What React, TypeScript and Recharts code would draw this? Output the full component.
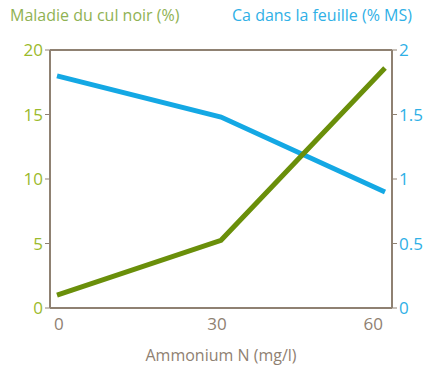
import { Line, LineChart, XAxis, YAxis, CartesianGrid, ReferenceLine } from 'recharts';

const ammonium = [0, 30, 60];
const culNoir = [1.0, 5.25, 18.6];
const calcium = [1.8, 1.48, 0.9];
const leftTicks = [0, 5, 10, 15, 20];
const rightTicks = [0, 0.5, 1, 1.5, 2];
const xTicks = [0, 30, 60];

const data = ammonium.map((n, i) => ({ n, culNoir: culNoir[i], calcium: calcium[i] }));

const FONT = '"Open Sans", "DejaVu Sans", sans-serif';
const BROWN = '#8f8172';

function XTick(props: any) {
    const { x, y, payload } = props;
    const v = payload.value;
    const anchor = v === 0 ? 'start' : v === 60 ? 'end' : 'middle';
    const dx = v === 0 ? -3 : v === 60 ? -2 : -4;
    return (
        <text x={x + dx} y={y + 14} textAnchor={anchor} fill={BROWN} fontSize={17} fontFamily={FONT}>
            {v}
        </text>
    );
}

export default function App() {
    return (
        <div style={{ position: 'absolute', left: 0, top: 0, width: 435, height: 371, background: '#fff' }}>
            <div style={{ position: 'absolute', left: 10, top: 4, color: '#8fb253', fontFamily: FONT, fontSize: 16, fontWeight: 500 }}>
                Maladie du cul noir (%)
            </div>
            <div style={{ position: 'absolute', left: 232, top: 4, color: '#2fb0e6', fontFamily: FONT, fontSize: 16, fontWeight: 500 }}>
                Ca dans la feuille (% MS)
            </div>
            <LineChart width={435} height={371} data={data} margin={{ top: 50, right: 0, bottom: 0, left: 0 }}>
                <CartesianGrid vertical={false} stroke={BROWN} strokeWidth={1.5} />
                <XAxis
                    dataKey="n"
                    type="number"
                    domain={[0, 60]}
                    ticks={xTicks}
                    padding={{ left: 7, right: 7 }}
                    height={63}
                    axisLine={{ stroke: BROWN, strokeWidth: 2 }}
                    tickLine={false}
                    tick={<XTick />}
                    label={{ value: 'Ammonium N (mg/l)', position: 'insideBottom', offset: 10, fill: BROWN, fontSize: 16, fontFamily: FONT }}
                />
                <YAxis
                    yAxisId="left"
                    domain={[0, 20]}
                    ticks={leftTicks}
                    width={50}
                    axisLine={{ stroke: BROWN, strokeWidth: 2 }}
                    tickLine={{ stroke: BROWN }}
                    tickSize={5}
                    tick={{ fill: '#9bba2c', fontSize: 17, fontFamily: FONT }}
                />
                <YAxis
                    yAxisId="right"
                    orientation="right"
                    domain={[0, 2]}
                    ticks={rightTicks}
                    width={43}
                    axisLine={{ stroke: BROWN, strokeWidth: 2 }}
                    tickLine={{ stroke: BROWN }}
                    tickSize={5}
                    tick={{ fill: '#2fb0e6', fontSize: 17, fontFamily: FONT }}
                />
                <ReferenceLine yAxisId="left" y={20} stroke={BROWN} strokeWidth={2} />
                <Line
                    yAxisId="right"
                    type="linear"
                    dataKey="calcium"
                    stroke="#14a8e4"
                    strokeWidth={5}
                    dot={false}
                    isAnimationActive={false}
                />
                <Line
                    yAxisId="left"
                    type="linear"
                    dataKey="culNoir"
                    stroke="#6a8f0a"
                    strokeWidth={5}
                    dot={false}
                    isAnimationActive={false}
                />
            </LineChart>
        </div>
    );
}
